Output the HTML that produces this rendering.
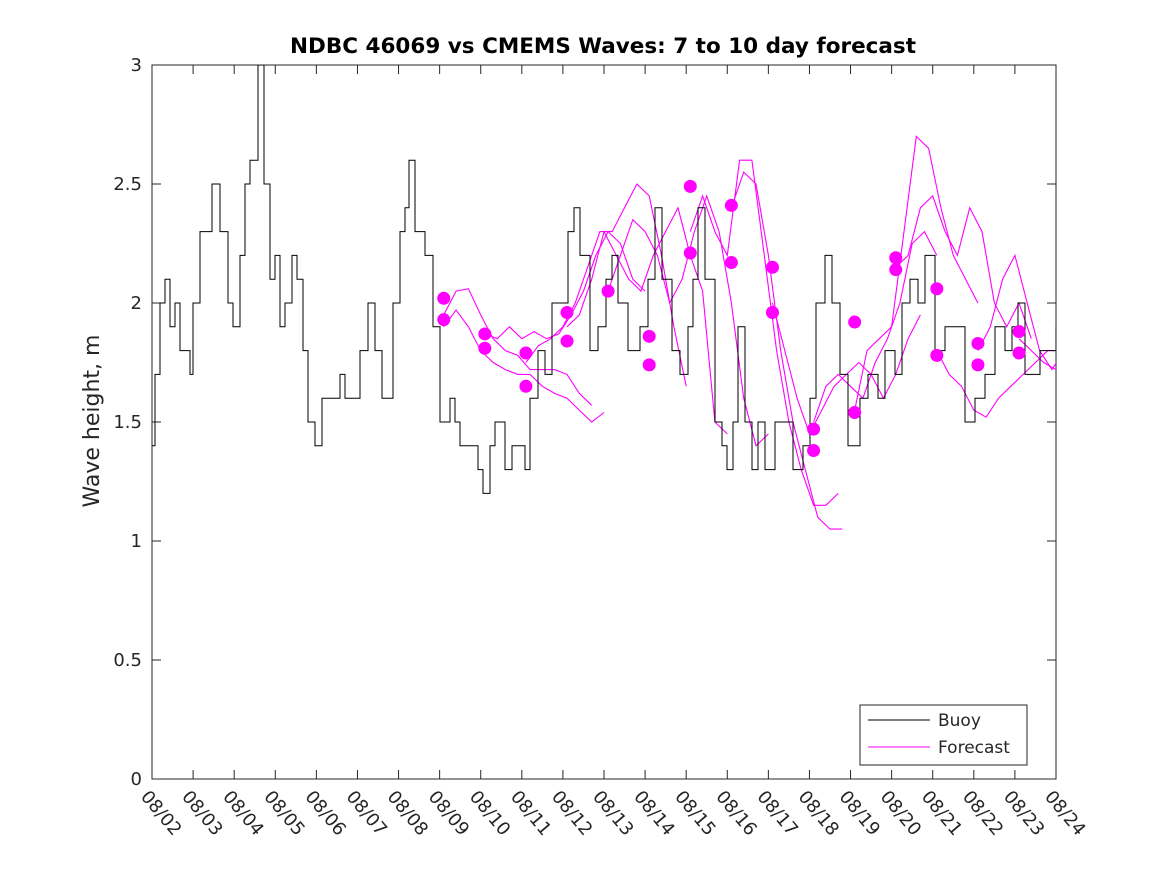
<!DOCTYPE html>
<html><head><meta charset="utf-8"><style>
body{margin:0;background:#fff}
svg text{font-family:"DejaVu Sans","Liberation Sans",sans-serif;fill:#262626}
</style></head><body>
<svg id="chart" width="1167" height="875" viewBox="0 0 1167 875" xmlns="http://www.w3.org/2000/svg">
<defs><clipPath id="pc"><rect x="152" y="65" width="904" height="714"/></clipPath></defs>
<rect width="1167" height="875" fill="#fff"/>
<text x="603" y="53" text-anchor="middle" font-size="21.5" font-weight="bold" style="fill:#000">NDBC 46069 vs CMEMS Waves: 7 to 10 day forecast</text>
<text transform="translate(99,421) rotate(-90)" text-anchor="middle" font-size="22">Wave height, m</text>
<g id="axes"></g>
<g id="series" clip-path="url(#pc)"></g>
<g>
<rect x="860" y="705" width="167" height="60" fill="#fff" stroke="#262626" stroke-width="1"/>
<line x1="868" y1="720" x2="930" y2="720" stroke="#000" stroke-width="1"/>
<text x="938" y="726" font-size="17">Buoy</text>
<line x1="868" y1="747" x2="930" y2="747" stroke="#f0f" stroke-width="1"/>
<text x="938" y="753" font-size="17">Forecast</text>
</g>
</svg>
<script>
const xTickLabels=["08/02","08/03","08/04","08/05","08/06","08/07","08/08","08/09","08/10","08/11","08/12","08/13","08/14","08/15","08/16","08/17","08/18","08/19","08/20","08/21","08/22","08/23","08/24"];
const yTicks=[0,0.5,1,1.5,2,2.5,3];
const yTickLabels=["0","0.5","1","1.5","2","2.5","3"];
const buoyX=[152,155,160,165,170,175,180,185,190,193,200,205,212,220,228,233,240,245,250,258,264,270,275,280,285,292,297,303,308,315,322,330,340,345,352,360,368,375,382,393,400,405,409,415,425,433,440,450,455,460,470,478,483,490,495,505,512,520,525,530,538,545,552,560,568,574,580,590,598,606,612,618,628,640,648,655,662,672,680,688,693,698,705,715,722,727,733,738,745,752,758,765,775,785,793,803,810,816,825,832,840,848,860,868,878,885,895,902,910,918,925,935,945,955,965,975,985,995,1005,1012,1018,1025,1040,1056];
const buoyDays=buoyX.map(p=>(p-152)/41.09);
const buoyVals=[1.4,1.7,2.0,2.1,1.9,2.0,1.8,1.8,1.7,2.0,2.3,2.3,2.5,2.3,2.0,1.9,2.2,2.5,2.6,3.0,2.5,2.1,2.2,1.9,2.0,2.2,2.1,1.8,1.5,1.4,1.6,1.6,1.7,1.6,1.6,1.8,2.0,1.8,1.6,2.0,2.3,2.4,2.6,2.3,2.2,1.9,1.5,1.6,1.5,1.4,1.4,1.3,1.2,1.4,1.5,1.3,1.4,1.4,1.3,1.6,1.8,1.7,2.0,2.0,2.3,2.4,2.2,1.8,1.9,2.1,2.2,2.0,1.8,1.9,2.1,2.4,2.1,1.8,1.7,1.9,2.1,2.4,2.1,1.5,1.4,1.3,1.5,1.9,1.5,1.3,1.5,1.3,1.5,1.5,1.3,1.4,1.6,2.0,2.2,2.0,1.7,1.4,1.6,1.7,1.6,1.8,1.7,2.0,2.1,2.0,2.2,1.8,1.9,1.9,1.5,1.6,1.7,1.9,1.8,1.9,2.0,1.7,1.8,1.9];
const fcStarts=[7.1,7.1,8.1,9.1,10.1,11.1,13.1,14.1,15.1,16.1,17.1,18.1,19.1,20.1,21.1];
const fcVals=[
[1.95,2.05,2.06,1.95,1.85,1.8,1.78,1.72,1.72,1.72,1.7,1.62,1.57],
[1.9,1.97,1.9,1.8,1.75,1.72,1.7,1.7,1.65,1.62,1.6,1.55,1.5,1.54],
[1.87,1.85,1.9,1.85,1.88,1.85,1.87,1.95,2.05,2.2,2.3,2.25,2.1,2.05],
[1.75,1.82,1.85,1.9,2.0,2.15,2.3,2.3,2.4,2.5,2.45,2.2,1.9,1.65],
[1.9,1.95,2.1,2.3,2.2,2.1,2.05,2.2,2.3,2.4,2.2,2.05,1.5,1.45],
[2.05,2.2,2.35,2.3,2.2,2.0,2.1,2.3,2.45,2.3,2.0,1.6,1.4,1.45],
[2.3,2.45,2.3,2.2,2.6,2.6,2.2,1.8,1.5,1.3,1.15,1.15,1.2],
[2.4,2.55,2.5,2.2,1.8,1.5,1.3,1.1,1.05,1.05],
[2.0,1.8,1.6,1.45,1.55,1.65,1.7,1.75,1.7,1.6,1.7,1.85,1.95],
[1.5,1.65,1.7,1.65,1.6,1.75,1.85,2.0,2.25,2.3,2.2],
[1.55,1.8,1.85,1.9,2.3,2.7,2.65,2.4,2.2,2.1,2.0],
[2.15,2.2,2.4,2.45,2.3,2.2,2.4,2.3,2.0,1.9,2.0,1.85],
[1.8,1.7,1.65,1.55,1.52,1.6,1.65,1.7,1.75,1.8,1.8],
[1.8,1.9,2.1,2.2,2.0,1.8,1.72,1.8,1.9],
[1.85,1.8,1.75,1.72,1.8,1.9]];
const markerDays=[7.1,7.1,8.1,8.1,9.1,9.1,10.1,10.1,11.1,12.1,12.1,13.1,13.1,14.1,14.1,15.1,15.1,16.1,16.1,17.1,17.1,18.1,18.1,19.1,19.1,20.1,20.1,21.1,21.1];
const markerVals=[2.02,1.93,1.87,1.81,1.79,1.65,1.96,1.84,2.05,1.86,1.74,2.49,2.21,2.41,2.17,2.15,1.96,1.47,1.38,1.92,1.54,2.19,2.14,2.06,1.78,1.83,1.74,1.88,1.79];

const X0=152,X1=1056,Y0=779,Y1=65;
const xs=d=>X0+d*(X1-X0)/22;
const ys=v=>Y0-v*(Y0-Y1)/3;
const NS="http://www.w3.org/2000/svg";
function mk(t,a,p){const e=document.createElementNS(NS,t);for(const k in a)e.setAttribute(k,a[k]);p.appendChild(e);return e;}
const ax=document.getElementById('axes'),se=document.getElementById('series');
const box=mk('rect',{x:X0,y:Y1,width:X1-X0,height:Y0-Y1,fill:'none',stroke:'#262626','stroke-width':1},ax);


yTicks.forEach((v,i)=>{
 const y=ys(v);
 mk('line',{x1:X0,y1:y,x2:X0+9,y2:y,stroke:'#262626'},ax);
 mk('line',{x1:X1,y1:y,x2:X1-9,y2:y,stroke:'#262626'},ax);
 const t=mk('text',{x:X0-10,y:y+6,'text-anchor':'end','font-size':18},ax);
 t.textContent=yTickLabels[i];
 
 
});
xTickLabels.forEach((l,i)=>{
 const x=xs(i);
 mk('line',{x1:x,y1:Y0,x2:x,y2:Y0-9,stroke:'#262626'},ax);
 mk('line',{x1:x,y1:Y1,x2:x,y2:Y1+9,stroke:'#262626'},ax);
 const t=mk('text',{transform:`translate(${x-12},${Y0+18}) rotate(50)`,'font-size':18},ax);
 t.textContent=l;
 
 
});
fcVals.forEach((vals,j)=>{
 const pts=vals.map((v,k)=>xs(fcStarts[j]+k*0.3).toFixed(1)+','+ys(v).toFixed(1)).join(' ');
 const p=mk('polyline',{points:pts,fill:'none',stroke:'#f0f','stroke-width':1.1},se);
 
 
});
let d='';
buoyDays.forEach((t,i)=>{
 const x=xs(t).toFixed(1),y=ys(buoyVals[i]).toFixed(1);
 if(i===0)d+=`M${x},${y}`;else d+=`H${x}V${y}`;
});
const bl=mk('path',{d:d,fill:'none',stroke:'#000','stroke-width':1},se);


markerDays.forEach((t,i)=>{
 const c=mk('circle',{cx:xs(t),cy:ys(markerVals[i]),r:6.5,fill:'#f0f'},se);
 
 
});
</script>
</body></html>
